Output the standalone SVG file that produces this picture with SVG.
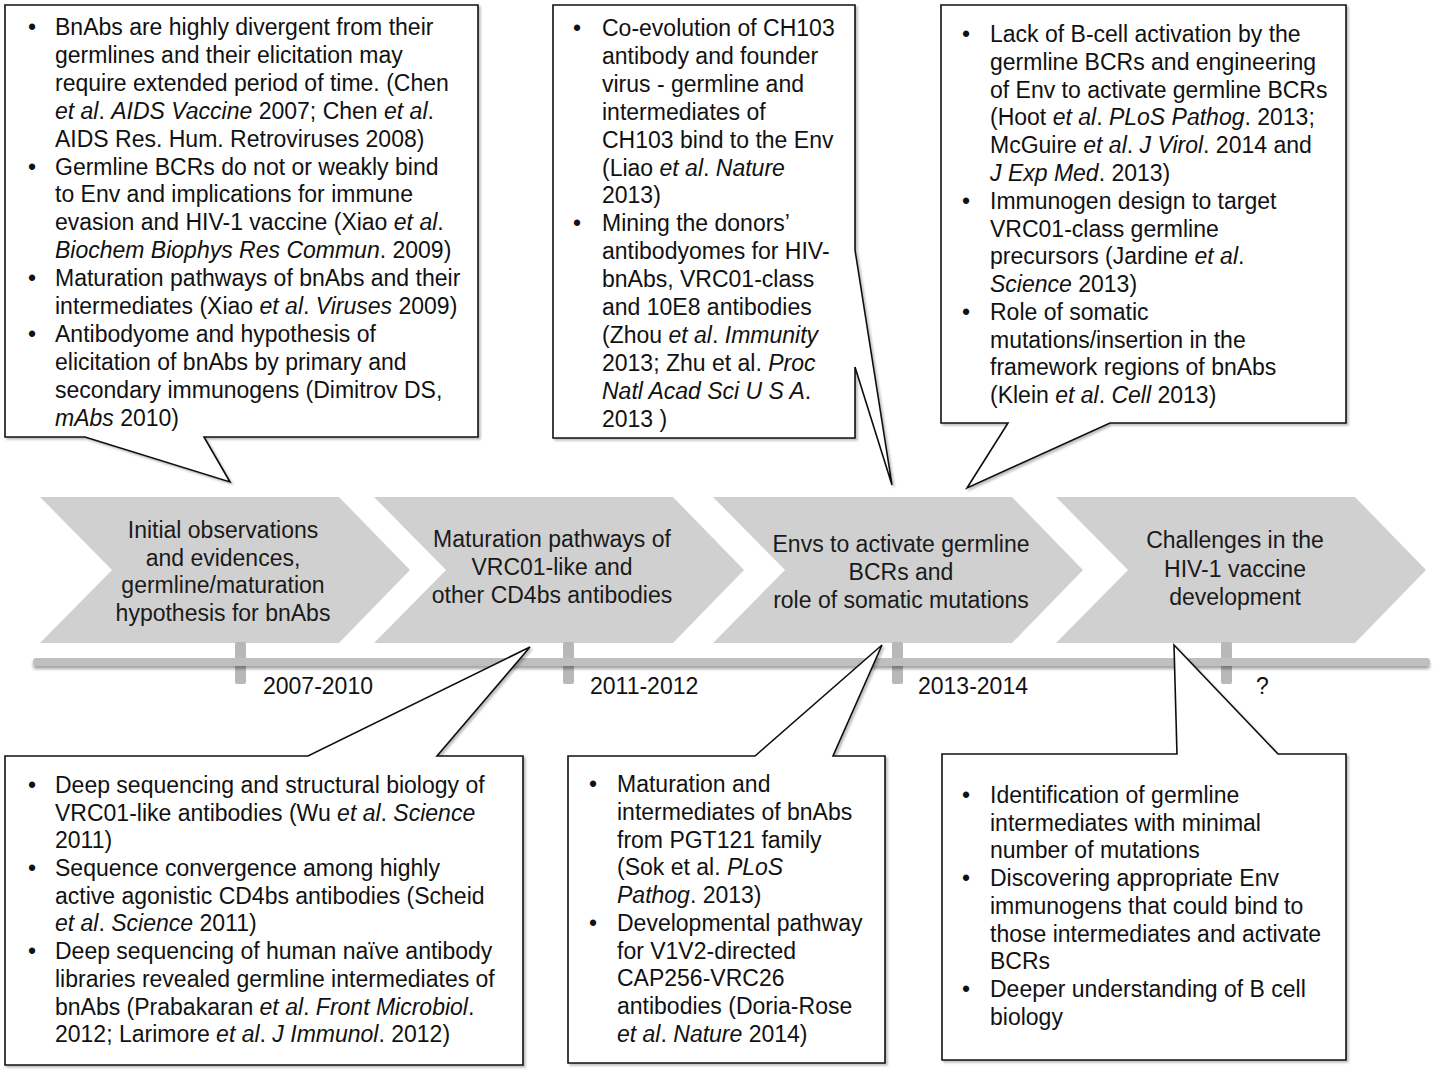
<svg xmlns="http://www.w3.org/2000/svg" width="1439" height="1071" viewBox="0 0 1439 1071">
<defs>
<style>
text{font-family:"Liberation Sans",Arial,sans-serif;font-size:23px;fill:#111;}
.i{font-style:italic;}
.chev{fill:#d0d0d0;}
.ct{text-anchor:middle;fill:#1a1a1a;}
.call{fill:#fff;stroke:#111;stroke-width:1.6;stroke-linejoin:miter;filter:url(#bs);}
.tick{fill:#b8b8b8;}
</style>
<filter id="bs" x="-5%" y="-5%" width="110%" height="110%">
<feDropShadow dx="2" dy="2" stdDeviation="1.2" flood-color="#000" flood-opacity="0.25"/>
</filter>
<filter id="ts" x="-5%" y="-50%" width="110%" height="250%">
<feDropShadow dx="0" dy="3" stdDeviation="1.8" flood-color="#000" flood-opacity="0.35"/>
</filter>
</defs>
<rect width="1439" height="1071" fill="#fff"/>

<g id="chevrons">
<g id="chev1"><polygon class="chev" points="40,497 339,497 410,570 339,643 40,643 112,570"/>
<text class="ct" x="223" y="538">Initial observations</text>
<text class="ct" x="223" y="566">and evidences,</text>
<text class="ct" x="223" y="593">germline/maturation</text>
<text class="ct" x="223" y="621">hypothesis for bnAbs</text></g>
<g id="chev2"><polygon class="chev" points="374,497 673,497 744,570 673,643 374,643 446,570"/>
<text class="ct" x="552" y="547">Maturation pathways of</text>
<text class="ct" x="552" y="575">VRC01-like and</text>
<text class="ct" x="552" y="603">other CD4bs antibodies</text></g>
<g id="chev3"><polygon class="chev" points="713,497 1012,497 1083,570 1012,643 713,643 785,570"/>
<text class="ct" x="901" y="552">Envs to activate germline</text>
<text class="ct" x="901" y="580">BCRs and</text>
<text class="ct" x="901" y="608">role of somatic mutations</text></g>
<g id="chev4"><polygon class="chev" points="1056,497 1355,497 1426,570 1355,643 1056,643 1128,570"/>
<text class="ct" x="1235" y="548">Challenges in the</text>
<text class="ct" x="1235" y="577">HIV-1 vaccine</text>
<text class="ct" x="1235" y="605">development</text></g>
</g>

<g id="timeline">
<rect class="tick" x="235" y="642" width="11" height="42" rx="2"/>
<rect class="tick" x="563" y="642" width="11" height="42" rx="2"/>
<rect class="tick" x="892" y="642" width="11" height="42" rx="2"/>
<rect class="tick" x="1221" y="642" width="11" height="42" rx="2"/>
<rect x="33" y="658" width="1397" height="8" rx="3" fill="#bfbfbf" filter="url(#ts)"/>
<text x="263" y="694">2007-2010</text>
<text x="590" y="694">2011-2012</text>
<text x="918" y="694">2013-2014</text>
<text x="1256" y="694">?</text>
</g>

<g id="connectors">
<g id="callout-tl">
<path class="call" d="M5,5 H478 V437 H204 L230,482 L85,437 H5 Z"/>
<text x="28" y="35">•</text><text x="55" y="35">BnAbs are highly divergent from their</text>
<text x="55" y="63">germlines and their elicitation may</text>
<text x="55" y="91">require extended period of time. (Chen</text>
<text x="55" y="119"><tspan class="i">et al</tspan>. <tspan class="i">AIDS Vaccine</tspan> 2007; Chen <tspan class="i">et al</tspan>.</text>
<text x="55" y="147">AIDS Res. Hum. Retroviruses 2008)</text>
<text x="28" y="175">•</text><text x="55" y="175">Germline BCRs do not or weakly bind</text>
<text x="55" y="202">to Env and implications for immune</text>
<text x="55" y="230">evasion and HIV-1 vaccine (Xiao <tspan class="i">et al</tspan>.</text>
<text x="55" y="258"><tspan class="i">Biochem Biophys Res Commun</tspan>. 2009)</text>
<text x="28" y="286">•</text><text x="55" y="286">Maturation pathways of bnAbs and their</text>
<text x="55" y="314">intermediates (Xiao <tspan class="i">et al</tspan>. <tspan class="i">Viruses</tspan> 2009)</text>
<text x="28" y="342">•</text><text x="55" y="342">Antibodyome and hypothesis of</text>
<text x="55" y="370">elicitation of bnAbs by primary and</text>
<text x="55" y="398">secondary immunogens (Dimitrov DS,</text>
<text x="55" y="426"><tspan class="i">mAbs</tspan> 2010)</text>
</g>

<g id="callout-tm">
<path class="call" d="M553,5 H855 V250 L892,485 L855,367 V438 H553 Z"/>
<text x="573" y="36">•</text><text x="602" y="36">Co-evolution of CH103</text>
<text x="602" y="64">antibody and founder</text>
<text x="602" y="92">virus - germline and</text>
<text x="602" y="120">intermediates of</text>
<text x="602" y="148">CH103 bind to the Env</text>
<text x="602" y="176">(Liao <tspan class="i">et al</tspan>. <tspan class="i">Nature</tspan></text>
<text x="602" y="203">2013)</text>
<text x="573" y="231">•</text><text x="602" y="231">Mining the donors’</text>
<text x="602" y="259">antibodyomes for HIV-</text>
<text x="602" y="287">bnAbs, VRC01-class</text>
<text x="602" y="315">and 10E8 antibodies</text>
<text x="602" y="343">(Zhou <tspan class="i">et al</tspan>. <tspan class="i">Immunity</tspan></text>
<text x="602" y="371">2013; Zhu et al. <tspan class="i">Proc</tspan></text>
<text x="602" y="399"><tspan class="i">Natl Acad Sci U S A</tspan>.</text>
<text x="602" y="427">2013 )</text>
</g>

<g id="callout-tr">
<path class="call" d="M941,5 H1346 V423 H1110 L967,488 L1008,423 H941 Z"/>
<text x="962" y="42">•</text><text x="990" y="42">Lack of B-cell activation by the</text>
<text x="990" y="70">germline BCRs and engineering</text>
<text x="990" y="98">of Env to activate germline BCRs</text>
<text x="990" y="125">(Hoot <tspan class="i">et al</tspan>. <tspan class="i">PLoS Pathog</tspan>. 2013;</text>
<text x="990" y="153">McGuire <tspan class="i">et al</tspan>. <tspan class="i">J Virol</tspan>. 2014 and</text>
<text x="990" y="181"><tspan class="i">J Exp Med</tspan>. 2013)</text>
<text x="962" y="209">•</text><text x="990" y="209">Immunogen design to target</text>
<text x="990" y="237">VRC01-class germline</text>
<text x="990" y="264">precursors (Jardine <tspan class="i">et al</tspan>.</text>
<text x="990" y="292"><tspan class="i">Science</tspan> 2013)</text>
<text x="962" y="320">•</text><text x="990" y="320">Role of somatic</text>
<text x="990" y="348">mutations/insertion in the</text>
<text x="990" y="375">framework regions of bnAbs</text>
<text x="990" y="403">(Klein <tspan class="i">et al</tspan>. <tspan class="i">Cell</tspan> 2013)</text>
</g>

<g id="callout-bl">
<path class="call" d="M5,756 H308 L530,647 L437,756 H523 V1065 H5 Z"/>
<text x="28" y="793">•</text><text x="55" y="793">Deep sequencing and structural biology of</text>
<text x="55" y="821">VRC01-like antibodies (Wu <tspan class="i">et al</tspan>. <tspan class="i">Science</tspan></text>
<text x="55" y="848">2011)</text>
<text x="28" y="876">•</text><text x="55" y="876">Sequence convergence among highly</text>
<text x="55" y="904">active agonistic CD4bs antibodies (Scheid</text>
<text x="55" y="931"><tspan class="i">et al</tspan>. <tspan class="i">Science</tspan> 2011)</text>
<text x="28" y="959">•</text><text x="55" y="959">Deep sequencing of human naïve antibody</text>
<text x="55" y="987">libraries revealed germline intermediates of</text>
<text x="55" y="1015">bnAbs (Prabakaran <tspan class="i">et al</tspan>. <tspan class="i">Front Microbiol</tspan>.</text>
<text x="55" y="1042">2012; Larimore <tspan class="i">et al</tspan>. <tspan class="i">J Immunol</tspan>. 2012)</text>
</g>

<g id="callout-bm">
<path class="call" d="M568,756 H755 L882,645 L833,756 H885 V1063 H568 Z"/>
<text x="589" y="792">•</text><text x="617" y="792">Maturation and</text>
<text x="617" y="820">intermediates of bnAbs</text>
<text x="617" y="848">from PGT121 family</text>
<text x="617" y="875">(Sok et al. <tspan class="i">PLoS</tspan></text>
<text x="617" y="903"><tspan class="i">Pathog</tspan>. 2013)</text>
<text x="589" y="931">•</text><text x="617" y="931">Developmental pathway</text>
<text x="617" y="959">for V1V2-directed</text>
<text x="617" y="986">CAP256-VRC26</text>
<text x="617" y="1014">antibodies (Doria-Rose</text>
<text x="617" y="1042"><tspan class="i">et al</tspan>. <tspan class="i">Nature</tspan> 2014)</text>
</g>

<g id="callout-br">
<path class="call" d="M942,754 H1177 L1174,645 L1278,754 H1346 V1060 H942 Z"/>
<text x="962" y="803">•</text><text x="990" y="803">Identification of germline</text>
<text x="990" y="831">intermediates with minimal</text>
<text x="990" y="858">number of mutations</text>
<text x="962" y="886">•</text><text x="990" y="886">Discovering appropriate Env</text>
<text x="990" y="914">immunogens that could bind to</text>
<text x="990" y="942">those intermediates and activate</text>
<text x="990" y="969">BCRs</text>
<text x="962" y="997">•</text><text x="990" y="997">Deeper understanding of B cell</text>
<text x="990" y="1025">biology</text>
</g>
</g>
</svg>
